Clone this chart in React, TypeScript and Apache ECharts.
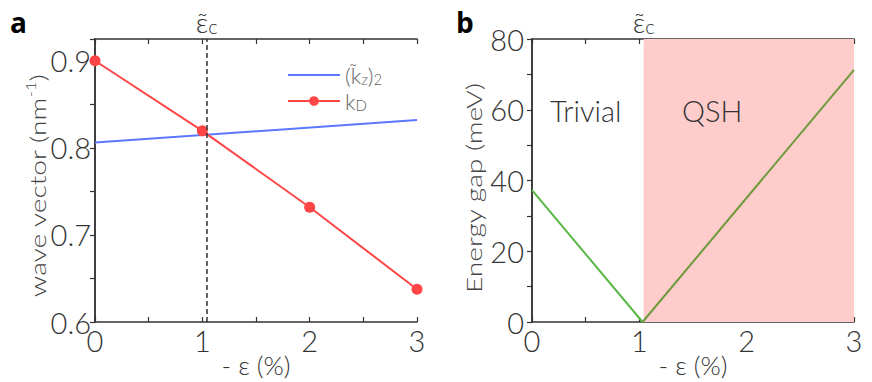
import React, { useEffect, useRef } from "react";
import * as echarts from "echarts";

// Panel a data
const kdStrain = [0, 1, 2, 3];
const kdValues = [0.9, 0.8195, 0.7318, 0.6376];
const kzStrain = [0, 3];
const kzValues = [0.806, 0.832];
const criticalStrain = 1.04;

// Panel b data
const gapTrivialStrain = [0, 1.03];
const gapTrivialValues = [37.3, 0];
const gapQshStrain = [1.03, 3];
const gapQshValues = [0, 71.3];

const xTickLabels = ["0", "1", "2", "3"];

const FONT = "Lato";
const FW = 300;
const AXIS = "#333";

const zip = (xs: number[], ys: number[]) => xs.map((x, i) => [x, ys[i]]);

export default function App() {
  const ref = useRef<HTMLDivElement>(null);
  useEffect(() => {
    if (!ref.current) return;
    const chart = echarts.init(ref.current, undefined, { renderer: "svg" });
    const grids = [
      { left: 95, top: 39, width: 322, height: 283, outerBoundsMode: "none", containLabel: false },
      { left: 532, top: 39, width: 322, height: 283, outerBoundsMode: "none", containLabel: false },
    ];
    const xLabelFmt = (v: number) =>
      Math.abs(v - Math.round(v)) < 1e-6 ? xTickLabels[Math.round(v)] ?? "" : "";
    const mkX = (gridIndex: number, bottom: boolean) => ({
      gridIndex,
      type: "value",
      min: 0,
      max: 3,
      interval: 0.5,
      position: bottom ? "bottom" : "top",
      axisLine: { show: true, onZero: false, lineStyle: { color: AXIS, width: 1.5 } },
      axisTick: { show: true, inside: true, length: 5, lineStyle: { color: AXIS, width: 1.2 } },
      axisLabel: {
        show: bottom,
        formatter: xLabelFmt,
        fontSize: 29,
        fontFamily: FONT,
        fontWeight: FW,
        color: AXIS,
        margin: 4,
      },
      splitLine: { show: false },
      name: bottom ? "- \u03b5 (%)" : "",
      nameLocation: "middle",
      nameGap: 30,
      nameMoveOverlap: false,
      nameTextStyle: { fontSize: 26, fontFamily: FONT, fontWeight: FW, color: AXIS },
    });
    const epsLabel = {
      show: true,
      position: "end",
      distance: 3,
      formatter: "{e|\u03b5\u0303}{c|c}",
      rich: {
        e: { fontSize: 28, fontFamily: FONT, fontWeight: FW, color: AXIS },
        c: { fontSize: 20, fontFamily: FONT, fontWeight: FW, color: AXIS, padding: [8, 0, 0, 0] },
      },
    };
    const yTitle = (text: string, x: number, y: number) => ({
      type: "text",
      x,
      y,
      rotation: Math.PI / 2,
      scaleX: 1.28,
      z: 100,
      style: {
        text,
        fontSize: 22,
        fontFamily: FONT,
        fontWeight: FW,
        fill: "#444",
        align: "center",
        verticalAlign: "middle",
        rich: {
          sup: { fontSize: 13, fontFamily: FONT, fontWeight: FW, fill: "#444", padding: [0, 0, 12, 0] },
        },
      },
    });
    const option: any = {
      animation: false,
      grid: grids,
      xAxis: [mkX(0, true), mkX(0, false), mkX(1, true), mkX(1, false)],
      yAxis: [
        {
          gridIndex: 0,
          type: "value",
          min: 0.6,
          max: 0.925,
          interval: 0.05,
          position: "left",
          axisLine: { show: true, lineStyle: { color: AXIS, width: 1.5 } },
          axisTick: { show: false },
          axisLabel: {
            formatter: (v: number) =>
              Math.abs(v * 10 - Math.round(v * 10)) < 1e-6 && v < 0.91 ? v.toFixed(1) : "",
            fontSize: 29,
            fontFamily: FONT,
            fontWeight: FW,
            color: AXIS,
            margin: 4,
          },
          splitLine: { show: false },
        },
        {
          gridIndex: 0,
          type: "value",
          min: 0.6,
          max: 0.925,
          interval: 0.05,
          position: "right",
          axisLine: { show: true, lineStyle: { color: AXIS, width: 1.5 } },
          axisTick: { show: true, inside: true, length: 5, lineStyle: { color: AXIS, width: 1.2 } },
          axisLabel: { show: false },
          splitLine: { show: false },
        },
        {
          gridIndex: 1,
          type: "value",
          min: 0,
          max: 80,
          interval: 10,
          position: "left",
          axisLine: { show: true, lineStyle: { color: AXIS, width: 1.5 } },
          axisTick: { show: false },
          axisLabel: {
            formatter: (v: number) => (v % 20 === 0 ? String(v) : ""),
            fontSize: 29,
            fontFamily: FONT,
            fontWeight: FW,
            color: AXIS,
            margin: 8,
          },
          splitLine: { show: false },
        },
        {
          gridIndex: 1,
          type: "value",
          min: 0,
          max: 80,
          interval: 10,
          position: "right",
          axisLine: { show: true, lineStyle: { color: AXIS, width: 1.5 } },
          axisTick: { show: true, inside: true, length: 5, lineStyle: { color: AXIS, width: 1.2 } },
          axisLabel: { show: false },
          splitLine: { show: false },
        },
      ],
      legend: {
        orient: "vertical",
        left: 282,
        top: 59,
        itemWidth: 52,
        itemHeight: 12,
        itemGap: 4,
        data: [{ name: "kz", itemStyle: { opacity: 0 } }, "kD"],
        formatter: (name: string) =>
          name === "kz" ? "{n|(k\u0303}{s|z}{n|)}{s|2}" : "{n|k}{s|D}",
        textStyle: {
          fontSize: 22,
          fontFamily: FONT,
          fontWeight: FW,
          color: "#666",
          rich: {
            n: { fontSize: 22, lineHeight: 20, fontFamily: FONT, fontWeight: FW, color: "#666" },
            s: { fontSize: 15, lineHeight: 13, fontFamily: FONT, fontWeight: FW, color: "#666", padding: [7, 0, 0, 0] },
          },
        },
      },
      series: [
        {
          name: "kz",
          type: "line",
          xAxisIndex: 0,
          yAxisIndex: 0,
          data: zip(kzStrain, kzValues),
          symbol: "none",
          lineStyle: { color: "#5b78ff", width: 2 },
          itemStyle: { color: "#5b78ff" },
          z: 3,
        },
        {
          name: "kD",
          type: "line",
          xAxisIndex: 0,
          yAxisIndex: 0,
          data: zip(kdStrain, kdValues),
          symbol: "circle",
          symbolSize: 11,
          lineStyle: { color: "#ff4545", width: 2 },
          itemStyle: { color: "#ff4545" },
          z: 4,
          markLine: {
            silent: true,
            symbol: "none",
            lineStyle: { color: AXIS, type: [5, 3], width: 1.5 },
            label: epsLabel,
            data: [{ xAxis: criticalStrain }],
          },
        },
        {
          name: "trivial",
          type: "line",
          xAxisIndex: 2,
          yAxisIndex: 2,
          data: zip(gapTrivialStrain, gapTrivialValues),
          symbol: "none",
          lineStyle: { color: "#5ab846", width: 2 },
          z: 3,
          markArea: {
            silent: true,
            itemStyle: { color: "#ffcccc" },
            data: [[{ xAxis: criticalStrain }, { xAxis: 3 }]],
          },
          markLine: {
            silent: true,
            symbol: "none",
            lineStyle: { color: "rgba(0,0,0,0)", width: 0 },
            label: epsLabel,
            data: [{ xAxis: criticalStrain }],
          },
        },
        {
          name: "qsh",
          type: "line",
          xAxisIndex: 2,
          yAxisIndex: 2,
          data: zip(gapQshStrain, gapQshValues),
          symbol: "none",
          lineStyle: { color: "#6e9a3c", width: 2 },
          z: 3,
        },
      ],
      graphic: [
        { type: "text", left: 10, top: 8, z: 100, style: { text: "a", fontSize: 28, fontWeight: "bold", fontFamily: "Open Sans", fill: "#000" } },
        { type: "text", left: 456, top: 8, z: 100, style: { text: "b", fontSize: 28, fontWeight: "bold", fontFamily: "Open Sans", fill: "#000" } },
        { type: "text", left: 550, top: 96, z: 100, style: { text: "Trivial", fontSize: 29, fontFamily: FONT, fontWeight: FW, fill: AXIS } },
        { type: "text", left: 682, top: 96, z: 100, style: { text: "QSH", fontSize: 29, fontFamily: FONT, fontWeight: FW, fill: AXIS } },
        yTitle("wave vector (nm{sup|-1})", 37, 186),
        yTitle("Energy gap (meV)", 473, 188),
      ],
    };
    chart.setOption(option);
    return () => chart.dispose();
  }, []);
  return (
    <div
      ref={ref}
      style={{ position: "fixed", left: 0, top: 0, width: 872, height: 382, background: "#fff" }}
    />
  );
}
